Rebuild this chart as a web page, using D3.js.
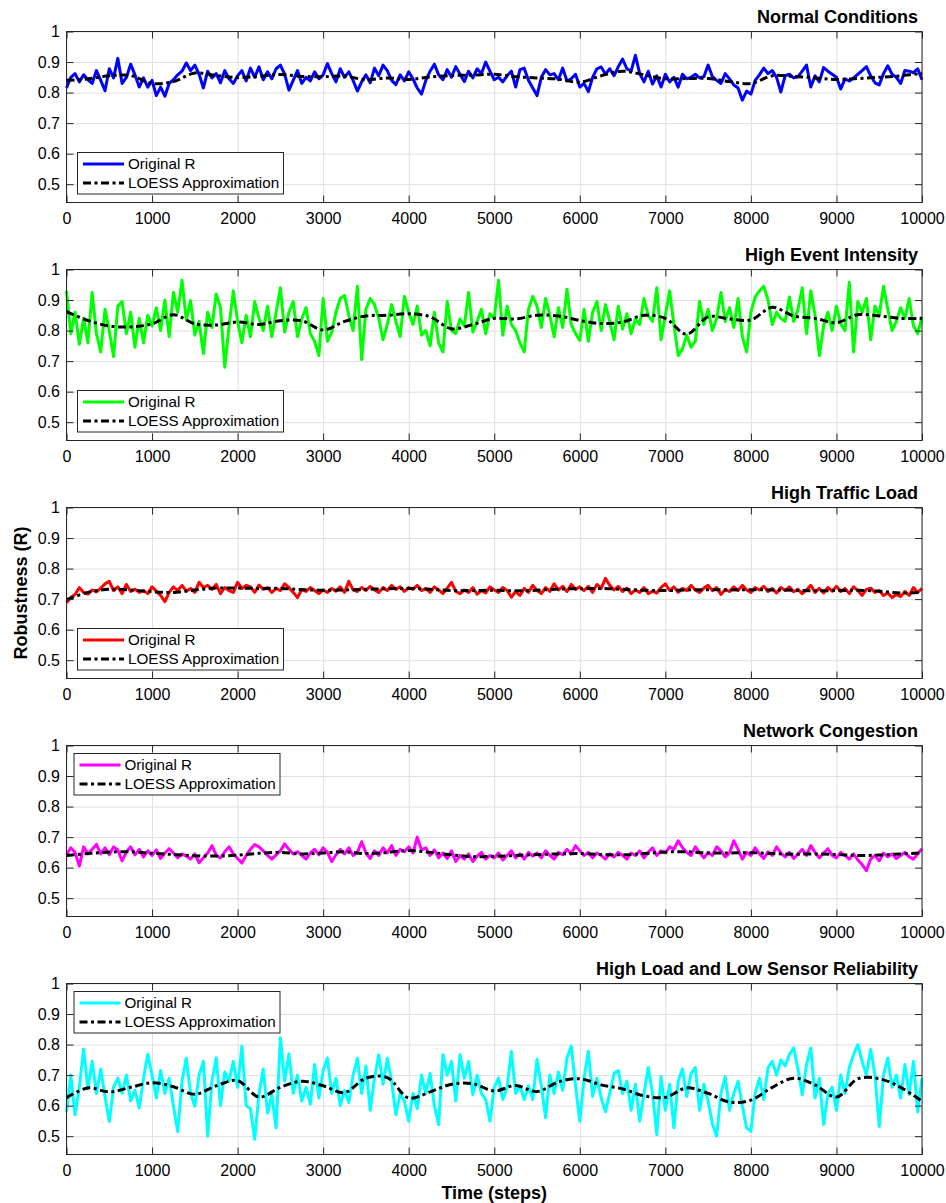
<!DOCTYPE html>
<html>
<head>
<meta charset="utf-8">
<script src="https://cdn.jsdelivr.net/npm/d3@7/dist/d3.min.js"></script>
<style>
  body { margin: 0; background: #fff; }
  svg text { font-family: "Liberation Sans", Arial, Helvetica, sans-serif; fill: #000; }
</style>
</head>
<body>
<div id="chart"></div>
<script>
// ---- data ----
var steps = d3.range(0, 10001, 50);        // raw samples every 50 steps
var loessSteps = d3.range(0, 10001, 250);  // smoothed curve every 250 steps
var xTicks = d3.range(0, 10001, 1000);
var yTicks = [0.5, 0.6, 0.7, 0.8, 0.9, 1];
var titles = ["Normal Conditions", "High Event Intensity", "High Traffic Load",
              "Network Congestion", "High Load and Low Sensor Reliability"];
var seriesColors = ["#0000ff", "#00ff00", "#ff0000", "#ff00ff", "#00ffff"];
var legendLabels = ["Original R", "LOESS Approximation"];

var normalR = [
  0.815, 0.850, 0.862, 0.835, 0.858, 0.842, 0.830, 0.872, 0.840, 0.806,
  0.878, 0.848, 0.912, 0.830, 0.850, 0.893, 0.858, 0.818, 0.848, 0.818,
  0.840, 0.790, 0.818, 0.788, 0.830, 0.842, 0.858, 0.870, 0.897, 0.872,
  0.890, 0.860, 0.815, 0.870, 0.848, 0.862, 0.832, 0.872, 0.845, 0.830,
  0.855, 0.872, 0.838, 0.880, 0.850, 0.884, 0.842, 0.868, 0.845, 0.878,
  0.890, 0.860, 0.808, 0.840, 0.872, 0.830, 0.850, 0.838, 0.868, 0.845,
  0.858, 0.895, 0.862, 0.835, 0.878, 0.850, 0.868, 0.840, 0.805, 0.835,
  0.858, 0.832, 0.880, 0.855, 0.890, 0.872, 0.840, 0.826, 0.858, 0.838,
  0.868, 0.845, 0.815, 0.795, 0.840, 0.870, 0.893, 0.858, 0.842, 0.875,
  0.850, 0.885, 0.860, 0.836, 0.870, 0.848, 0.878, 0.862, 0.900, 0.870,
  0.842, 0.850, 0.835, 0.855, 0.870, 0.818, 0.875, 0.880, 0.840, 0.815,
  0.790, 0.850, 0.875, 0.858, 0.862, 0.842, 0.880, 0.838, 0.845, 0.860,
  0.818, 0.830, 0.803, 0.850, 0.878, 0.884, 0.860, 0.878, 0.855, 0.885,
  0.910, 0.878, 0.870, 0.922, 0.862, 0.835, 0.870, 0.828, 0.855, 0.818,
  0.860, 0.835, 0.850, 0.818, 0.860, 0.845, 0.850, 0.860, 0.848, 0.852,
  0.890, 0.852, 0.840, 0.830, 0.862, 0.845, 0.825, 0.815, 0.775, 0.805,
  0.795, 0.840, 0.858, 0.880, 0.862, 0.872, 0.850, 0.802, 0.855, 0.860,
  0.848, 0.852, 0.870, 0.890, 0.818, 0.855, 0.835, 0.882, 0.870, 0.860,
  0.850, 0.812, 0.845, 0.838, 0.848, 0.860, 0.872, 0.885, 0.855, 0.832,
  0.825, 0.862, 0.888, 0.860, 0.850, 0.830, 0.872, 0.870, 0.865, 0.878,
  0.842
];
var normalLoess = [
  0.840, 0.845, 0.855, 0.856, 0.830, 0.836, 0.864, 0.856, 0.849, 0.853,
  0.859, 0.853, 0.852, 0.854, 0.842, 0.848, 0.843, 0.851, 0.856, 0.857,
  0.860, 0.852, 0.848, 0.844, 0.834, 0.855, 0.870, 0.858, 0.845, 0.846,
  0.846, 0.836, 0.830, 0.855, 0.853, 0.848, 0.843, 0.846, 0.850, 0.855,
  0.863
];

var eventR = [
  0.930, 0.790, 0.860, 0.755, 0.840, 0.760, 0.925, 0.790, 0.730, 0.870,
  0.800, 0.715, 0.880, 0.895, 0.790, 0.860, 0.745, 0.840, 0.760, 0.850,
  0.815, 0.875, 0.800, 0.900, 0.780, 0.925, 0.860, 0.965, 0.835, 0.898,
  0.785, 0.830, 0.725, 0.860, 0.810, 0.920, 0.875, 0.680, 0.815, 0.930,
  0.830, 0.760, 0.850, 0.780, 0.895, 0.840, 0.800, 0.880, 0.780, 0.860,
  0.940, 0.795, 0.860, 0.895, 0.780, 0.838, 0.875, 0.790, 0.765, 0.718,
  0.905, 0.765, 0.795, 0.860, 0.905, 0.915, 0.850, 0.800, 0.945, 0.705,
  0.870, 0.905, 0.885, 0.840, 0.770, 0.820, 0.885, 0.830, 0.780, 0.912,
  0.860, 0.820, 0.880, 0.785, 0.800, 0.750, 0.860, 0.760, 0.730, 0.895,
  0.800, 0.790, 0.838, 0.815, 0.925, 0.795, 0.830, 0.870, 0.790, 0.855,
  0.840, 0.965, 0.785, 0.880, 0.820, 0.800, 0.760, 0.730, 0.870, 0.912,
  0.880, 0.810, 0.905, 0.850, 0.780, 0.875, 0.810, 0.935, 0.820, 0.790,
  0.768, 0.870, 0.765, 0.860, 0.895, 0.800, 0.885, 0.830, 0.770, 0.880,
  0.805, 0.855, 0.790, 0.838, 0.820, 0.905, 0.850, 0.830, 0.940, 0.770,
  0.850, 0.930, 0.820, 0.718, 0.740, 0.785, 0.745, 0.765, 0.895, 0.820,
  0.870, 0.800, 0.840, 0.925, 0.830, 0.875, 0.810, 0.905, 0.780, 0.730,
  0.860, 0.910, 0.930, 0.945, 0.900, 0.820, 0.860, 0.840, 0.830, 0.910,
  0.830, 0.870, 0.940, 0.790, 0.930, 0.850, 0.718, 0.815, 0.860, 0.800,
  0.880, 0.822, 0.800, 0.958, 0.730, 0.895, 0.860, 0.905, 0.770, 0.880,
  0.850, 0.945, 0.870, 0.800, 0.830, 0.875, 0.840, 0.905, 0.815, 0.790,
  0.845
];
var eventLoess = [
  0.862, 0.833, 0.815, 0.812, 0.822, 0.852, 0.822, 0.818, 0.828, 0.820,
  0.832, 0.832, 0.802, 0.830, 0.848, 0.850, 0.855, 0.845, 0.806, 0.820,
  0.840, 0.838, 0.850, 0.848, 0.833, 0.823, 0.828, 0.850, 0.840, 0.788,
  0.845, 0.838, 0.835, 0.876, 0.848, 0.840, 0.826, 0.852, 0.848, 0.840,
  0.840
];

var trafficR = [
  0.688, 0.705, 0.715, 0.738, 0.722, 0.716, 0.730, 0.724, 0.736, 0.750,
  0.758, 0.728, 0.740, 0.718, 0.748, 0.725, 0.732, 0.722, 0.728, 0.718,
  0.740, 0.726, 0.712, 0.692, 0.722, 0.740, 0.728, 0.745, 0.726, 0.735,
  0.722, 0.755, 0.738, 0.745, 0.732, 0.748, 0.718, 0.738, 0.728, 0.722,
  0.755, 0.735, 0.745, 0.740, 0.722, 0.746, 0.732, 0.738, 0.722, 0.735,
  0.728, 0.750, 0.738, 0.722, 0.705, 0.732, 0.725, 0.738, 0.728, 0.718,
  0.730, 0.722, 0.735, 0.726, 0.740, 0.722, 0.758, 0.730, 0.725, 0.738,
  0.728, 0.742, 0.730, 0.722, 0.738, 0.728, 0.745, 0.732, 0.740, 0.725,
  0.738, 0.732, 0.745, 0.728, 0.735, 0.722, 0.740, 0.730, 0.718, 0.736,
  0.755, 0.725, 0.718, 0.730, 0.722, 0.738, 0.716, 0.728, 0.720, 0.740,
  0.730, 0.722, 0.738, 0.728, 0.706, 0.725, 0.712, 0.735, 0.722, 0.745,
  0.728, 0.718, 0.738, 0.725, 0.750, 0.730, 0.742, 0.725, 0.748, 0.732,
  0.740, 0.728, 0.742, 0.722, 0.748, 0.735, 0.768, 0.745, 0.730, 0.742,
  0.725, 0.736, 0.718, 0.730, 0.722, 0.738, 0.718, 0.726, 0.720, 0.738,
  0.750, 0.728, 0.740, 0.722, 0.735, 0.728, 0.745, 0.730, 0.722, 0.736,
  0.745, 0.728, 0.738, 0.715, 0.732, 0.725, 0.740, 0.728, 0.745, 0.730,
  0.722, 0.738, 0.730, 0.742, 0.725, 0.735, 0.720, 0.738, 0.728, 0.740,
  0.724, 0.732, 0.718, 0.730, 0.745, 0.722, 0.735, 0.720, 0.738, 0.726,
  0.742, 0.725, 0.735, 0.718, 0.740, 0.728, 0.712, 0.732, 0.736, 0.722,
  0.728, 0.712, 0.720, 0.705, 0.715, 0.708, 0.725, 0.712, 0.738, 0.722,
  0.735
];
var trafficLoess = [
  0.698, 0.722, 0.732, 0.730, 0.724, 0.722, 0.730, 0.736, 0.736, 0.735,
  0.735, 0.731, 0.729, 0.730, 0.732, 0.734, 0.735, 0.732, 0.728, 0.728,
  0.729, 0.727, 0.729, 0.733, 0.734, 0.735, 0.732, 0.729, 0.728, 0.730,
  0.731, 0.730, 0.731, 0.730, 0.729, 0.727, 0.728, 0.729, 0.726, 0.720,
  0.722
];

var congestionR = [
  0.642, 0.665, 0.650, 0.605, 0.668, 0.645, 0.660, 0.676, 0.645, 0.665,
  0.642, 0.668, 0.658, 0.622, 0.652, 0.668, 0.642, 0.660, 0.635, 0.655,
  0.640, 0.658, 0.630, 0.648, 0.662, 0.648, 0.632, 0.645, 0.638, 0.628,
  0.645, 0.616, 0.632, 0.648, 0.672, 0.640, 0.632, 0.652, 0.668, 0.645,
  0.630, 0.615, 0.640, 0.660, 0.676, 0.668, 0.655, 0.640, 0.628, 0.642,
  0.655, 0.678, 0.660, 0.645, 0.652, 0.640, 0.628, 0.648, 0.660, 0.642,
  0.665, 0.650, 0.620, 0.642, 0.660, 0.645, 0.665, 0.640, 0.650, 0.685,
  0.648, 0.630, 0.655, 0.640, 0.665, 0.648, 0.672, 0.640, 0.660, 0.652,
  0.668, 0.648, 0.700, 0.658, 0.665, 0.640, 0.658, 0.632, 0.648, 0.630,
  0.655, 0.620, 0.640, 0.628, 0.645, 0.620, 0.638, 0.650, 0.628, 0.640,
  0.632, 0.648, 0.625, 0.640, 0.655, 0.632, 0.645, 0.628, 0.650, 0.638,
  0.648, 0.632, 0.655, 0.640, 0.628, 0.650, 0.642, 0.660, 0.645, 0.672,
  0.655, 0.640, 0.650, 0.632, 0.648, 0.640, 0.628, 0.645, 0.635, 0.650,
  0.640, 0.628, 0.648, 0.640, 0.655, 0.632, 0.650, 0.665, 0.640, 0.655,
  0.648, 0.668, 0.660, 0.688, 0.665, 0.650, 0.640, 0.668, 0.650, 0.632,
  0.650, 0.640, 0.668, 0.655, 0.635, 0.648, 0.688, 0.660, 0.628, 0.650,
  0.640, 0.665, 0.645, 0.630, 0.652, 0.640, 0.668, 0.648, 0.635, 0.650,
  0.630, 0.645, 0.660, 0.640, 0.672, 0.650, 0.632, 0.648, 0.662, 0.640,
  0.632, 0.650, 0.640, 0.628, 0.645, 0.625, 0.610, 0.590, 0.628, 0.640,
  0.622, 0.648, 0.635, 0.645, 0.630, 0.640, 0.650, 0.635, 0.628, 0.645,
  0.662
];
var congestionLoess = [
  0.640, 0.646, 0.651, 0.652, 0.647, 0.643, 0.639, 0.638, 0.641, 0.647,
  0.650, 0.645, 0.648, 0.652, 0.646, 0.650, 0.656, 0.650, 0.642, 0.636,
  0.637, 0.640, 0.643, 0.645, 0.646, 0.643, 0.642, 0.646, 0.651, 0.652,
  0.648, 0.648, 0.649, 0.646, 0.644, 0.645, 0.643, 0.640, 0.641, 0.645,
  0.648
];

var sensorR = [
  0.580, 0.700, 0.570, 0.660, 0.785, 0.655, 0.745, 0.640, 0.720, 0.630,
  0.548, 0.660, 0.690, 0.640, 0.700, 0.615, 0.650, 0.592, 0.690, 0.768,
  0.700, 0.625, 0.715, 0.640, 0.690, 0.598, 0.515, 0.680, 0.755, 0.640,
  0.598, 0.700, 0.745, 0.500, 0.680, 0.757, 0.600, 0.710, 0.680, 0.745,
  0.660, 0.795, 0.600, 0.590, 0.490, 0.640, 0.720, 0.575, 0.635, 0.527,
  0.822, 0.680, 0.770, 0.640, 0.700, 0.615, 0.660, 0.605, 0.735, 0.625,
  0.715, 0.756, 0.640, 0.690, 0.600, 0.650, 0.610, 0.700, 0.755, 0.640,
  0.730, 0.585, 0.690, 0.767, 0.670, 0.755, 0.680, 0.570, 0.640, 0.615,
  0.549, 0.640, 0.590, 0.700, 0.640, 0.705, 0.600, 0.538, 0.767, 0.700,
  0.745, 0.615, 0.767, 0.690, 0.745, 0.636, 0.700, 0.640, 0.620, 0.549,
  0.660, 0.690, 0.620, 0.660, 0.778, 0.640, 0.665, 0.620, 0.665, 0.620,
  0.752, 0.665, 0.560, 0.700, 0.640, 0.710, 0.650, 0.756, 0.795, 0.665,
  0.549, 0.690, 0.778, 0.630, 0.690, 0.625, 0.580, 0.640, 0.705, 0.715,
  0.640, 0.680, 0.585, 0.670, 0.549, 0.640, 0.725, 0.640, 0.505, 0.695,
  0.585, 0.670, 0.527, 0.680, 0.720, 0.630, 0.705, 0.725, 0.585, 0.670,
  0.615, 0.540, 0.500, 0.640, 0.695, 0.585, 0.640, 0.680, 0.600, 0.527,
  0.516, 0.640, 0.690, 0.620, 0.724, 0.745, 0.700, 0.750, 0.730, 0.767,
  0.789, 0.720, 0.636, 0.735, 0.789, 0.625, 0.690, 0.538, 0.640, 0.660,
  0.585, 0.700, 0.640, 0.724, 0.767, 0.800, 0.745, 0.700, 0.784, 0.700,
  0.532, 0.700, 0.756, 0.660, 0.700, 0.625, 0.735, 0.636, 0.745, 0.580,
  0.690
];
var sensorLoess = [
  0.626, 0.658, 0.645, 0.660, 0.675, 0.662, 0.637, 0.665, 0.682, 0.628,
  0.660, 0.680, 0.665, 0.643, 0.690, 0.692, 0.625, 0.645, 0.670, 0.672,
  0.648, 0.666, 0.646, 0.678, 0.688, 0.668, 0.655, 0.632, 0.627, 0.658,
  0.640, 0.612, 0.618, 0.660, 0.690, 0.668, 0.628, 0.688, 0.688, 0.660,
  0.614
];

var rawSeries = [normalR, eventR, trafficR, congestionR, sensorR];
var loessSeries = [normalLoess, eventLoess, trafficLoess, congestionLoess, sensorLoess];

// ---- layout ----
var W = 946, H = 1203;
var left = 66.5, right = 922;
var plotH = 171, firstTop = 31.5, pitch = 238;
var legendTop = [false, false, false, true, true];
var axisColor = "#262626", gridColor = "#dfdfdf";
var loessDash = "8,3.5,3,3.5";

var svg = d3.select("#chart").append("svg")
    .attr("width", W)
    .attr("height", H);

var x = d3.scaleLinear().domain([0, 10000]).range([left, right]);

var line = function(y) {
  return d3.line()
    .x(function(d) { return x(d[0]); })
    .y(function(d) { return y(d[1]); });
};

titles.forEach(function(title, i) {
  var top = firstTop + i * pitch;
  var bottom = top + plotH;
  var y = d3.scaleLinear().domain([0.44, 1]).range([bottom, top]);
  var g = svg.append("g").attr("class", "panel");

  // grid
  g.append("g")
      .attr("transform", "translate(0," + bottom + ")")
      .call(d3.axisBottom(x).tickValues(xTicks).tickSize(-plotH).tickFormat(""))
      .call(function(s) { s.select(".domain").remove(); })
      .selectAll("line").attr("stroke", gridColor).attr("stroke-width", 1);
  g.append("g")
      .attr("transform", "translate(" + left + ",0)")
      .call(d3.axisLeft(y).tickValues(yTicks).tickSize(-(right - left)).tickFormat(""))
      .call(function(s) { s.select(".domain").remove(); })
      .selectAll("line").attr("stroke", gridColor).attr("stroke-width", 1);

  var raw = steps.map(function(s, k) { return [s, rawSeries[i][k]]; });
  var smooth = loessSteps.map(function(s, k) { return [s, loessSeries[i][k]]; });

  g.append("path")
      .datum(raw)
      .attr("d", line(y))
      .attr("fill", "none")
      .attr("stroke", seriesColors[i])
      .attr("stroke-width", 3)
      .attr("stroke-linejoin", "round");

  g.append("path")
      .datum(smooth)
      .attr("d", line(y).curve(d3.curveCatmullRom))
      .attr("fill", "none")
      .attr("stroke", "#000")
      .attr("stroke-width", 3)
      .attr("stroke-dasharray", loessDash);

  // axes: ticks point inwards, box all round
  var xb = g.append("g")
      .attr("transform", "translate(0," + bottom + ")")
      .call(d3.axisBottom(x).tickValues(xTicks).tickSize(-7).tickPadding(10.5).tickFormat(d3.format("d")));
  var xt = g.append("g")
      .attr("transform", "translate(0," + top + ")")
      .call(d3.axisTop(x).tickValues(xTicks).tickSize(-7).tickFormat(""));
  var yl = g.append("g")
      .attr("transform", "translate(" + left + ",0)")
      .call(d3.axisLeft(y).tickValues(yTicks).tickSize(-7).tickPadding(6.5).tickFormat(d3.format("~g")));
  var yr = g.append("g")
      .attr("transform", "translate(" + right + ",0)")
      .call(d3.axisRight(y).tickValues(yTicks).tickSize(-7).tickFormat(""));
  [xb, xt, yl, yr].forEach(function(a) {
    a.select(".domain").remove();
    a.selectAll("line").attr("stroke", axisColor);
    a.selectAll("text").attr("font-size", 16).attr("fill", "#000")
      .style("font-family", '"Liberation Sans", Arial, sans-serif');
  });
  g.append("rect")
      .attr("x", left).attr("y", top)
      .attr("width", right - left).attr("height", plotH)
      .attr("fill", "none")
      .attr("stroke", axisColor)
      .attr("stroke-width", 1);

  g.append("text")
      .attr("x", right - 4)
      .attr("y", top - 9)
      .attr("text-anchor", "end")
      .attr("font-size", 18)
      .attr("font-weight", "bold")
      .text(title);

  // legend
  var lw = 206, lh = 41.5;
  var lx = legendTop[i] ? left + 7.5 : left + 11;
  var ly = legendTop[i] ? top + 8 : bottom - 8.5 - lh;
  var leg = g.append("g").attr("transform", "translate(" + lx + "," + ly + ")");
  leg.append("rect")
      .attr("width", lw).attr("height", lh)
      .attr("fill", "#fff")
      .attr("stroke", axisColor)
      .attr("stroke-width", 1);
  legendLabels.forEach(function(lab, k) {
    var ry = 11.5 + k * 19;
    leg.append("line")
        .attr("x1", 5.5).attr("x2", 46.5)
        .attr("y1", ry).attr("y2", ry)
        .attr("stroke", k === 0 ? seriesColors[i] : "#000")
        .attr("stroke-width", 3)
        .attr("stroke-dasharray", k === 0 ? null : loessDash);
    leg.append("text")
        .attr("x", 50.5)
        .attr("y", ry)
        .attr("dy", "0.35em")
        .attr("font-size", 15.2)
        .text(lab);
  });
});

// shared axis labels
svg.append("text")
    .attr("transform", "translate(27," + (firstTop + 2 * pitch + plotH / 2) + ")rotate(-90)")
    .attr("text-anchor", "middle")
    .attr("font-size", 18)
    .attr("font-weight", "bold")
    .text("Robustness (R)");

svg.append("text")
    .attr("x", (left + right) / 2)
    .attr("y", 1199)
    .attr("text-anchor", "middle")
    .attr("font-size", 18)
    .attr("font-weight", "bold")
    .text("Time (steps)");
</script>
</body>
</html>
